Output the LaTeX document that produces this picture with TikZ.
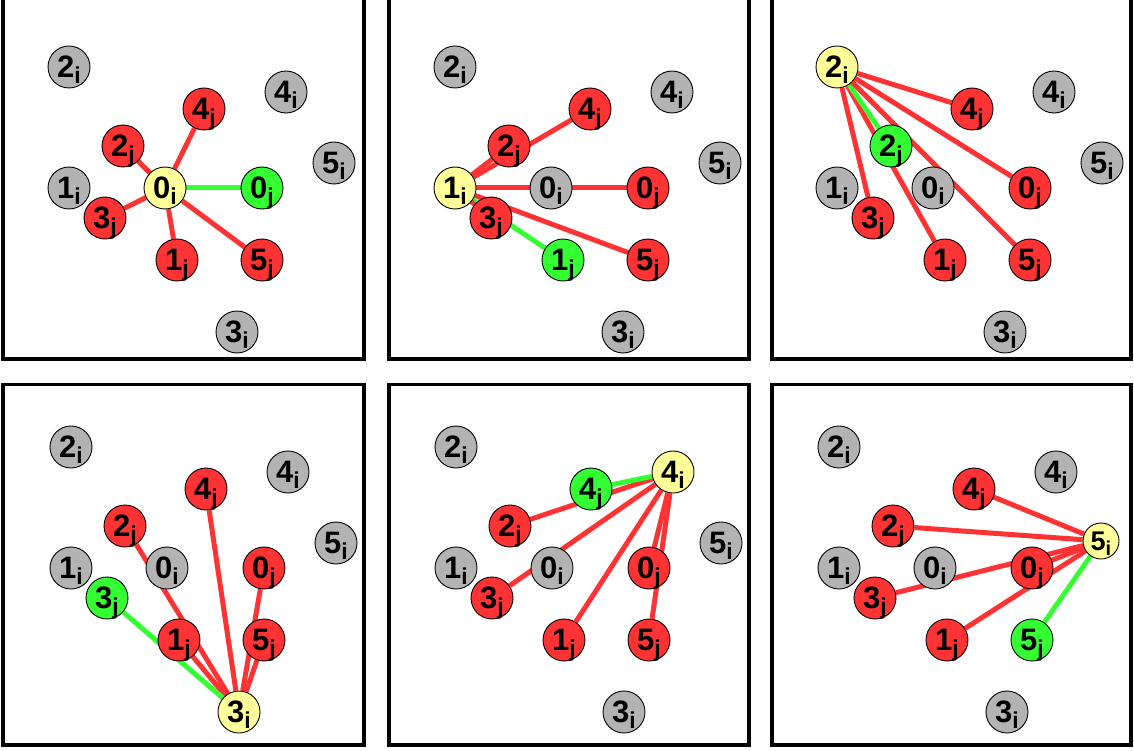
\documentclass[tikz,border=0pt]{standalone}
\usepackage{fontspec}
\setmainfont{Liberation Sans}

\pgfdeclarelayer{edges}
\pgfsetlayers{edges,main}

\definecolor{nodered}{HTML}{FF3333}
\definecolor{nodegreen}{HTML}{33FF33}
\definecolor{nodeyellow}{HTML}{FFFF99}
\definecolor{nodegray}{HTML}{B3B3B3}

% digit with a lowered index letter; the index is smashed so the digit sits centred
\newcommand\lbl[2]{{\fontsize{31}{31}\selectfont #1}\raisebox{-6pt}[0pt][0pt]{\fontsize{23}{23}\selectfont #2}}
\newcommand\lblsmall[2]{{\fontsize{27}{27}\selectfont #1}\raisebox{-5.2pt}[0pt][0pt]{\fontsize{20}{20}\selectfont #2}}

\tikzset{
  vtx/.style={circle, draw=black, line width=0.9pt, minimum size=42pt, inner sep=0pt, font=\bfseries},
  idle/.style={vtx, fill=nodegray},
  cur/.style={vtx, fill=nodeyellow},
  cand/.style={vtx, fill=nodered},
  best/.style={vtx, fill=nodegreen},
  link/.style={line width=5pt, draw=nodered},
  bestlink/.style={line width=5pt, draw=nodegreen},
  frame/.style={draw=black, line width=3.5pt}
}

\begin{document}
\begin{tikzpicture}[x=1pt, y=-1pt]
  \useasboundingbox (0,0) rectangle (1134,751);

  % panel frames
  \draw[frame] (3,-4) rectangle (364,359);
  \draw[frame] (389,-4) rectangle (749,359);
  \draw[frame] (772,-4) rectangle (1131,359);
  \draw[frame] (3,384.5) rectangle (364,745);
  \draw[frame] (389,384.5) rectangle (749,745);
  \draw[frame] (772,384.5) rectangle (1131,745);

  \foreach \k/\dx/\dy in {0/0/0, 1/386/0, 2/768/0, 3/2/380, 4/387/380, 5/770/380}{
    \begin{scope}[shift={(\dx,\dy)}]
      % i-nodes
      \foreach \n/\x/\y in {0/165/188, 1/69/188, 2/69/67, 3/237/332, 4/286/92, 5/334/163}{
        \ifnum\n=\k
          \ifnum\k=5
            \node[cur, minimum size=36pt] (p\k-\n i) at (331,161) {\lblsmall{\n}{i}};
          \else
            \node[cur] (p\k-\n i) at (\x,\y) {\lbl{\n}{i}};
          \fi
        \else
          \node[idle] (p\k-\n i) at (\x,\y) {\lbl{\n}{i}};
        \fi
      }
      % j-nodes
      \foreach \n/\x/\y in {0/262/188, 1/177/260, 2/123/146, 3/105/218, 4/204/109, 5/262/260}{
        \ifnum\n=\k \def\st{best}\else\def\st{cand}\fi
        \node[\st] (p\k-\n j) at (\x,\y) {\lbl{\n}{j}};
      }
      % links from the current i-node to every j-node
      \begin{pgfonlayer}{edges}
        \foreach \n in {0,...,5}{
          \ifnum\n=\k \def\st{bestlink}\else\def\st{link}\fi
          \draw[\st] (p\k-\k i) -- (p\k-\n j);
        }
      \end{pgfonlayer}
    \end{scope}
  }
\end{tikzpicture}
\end{document}
